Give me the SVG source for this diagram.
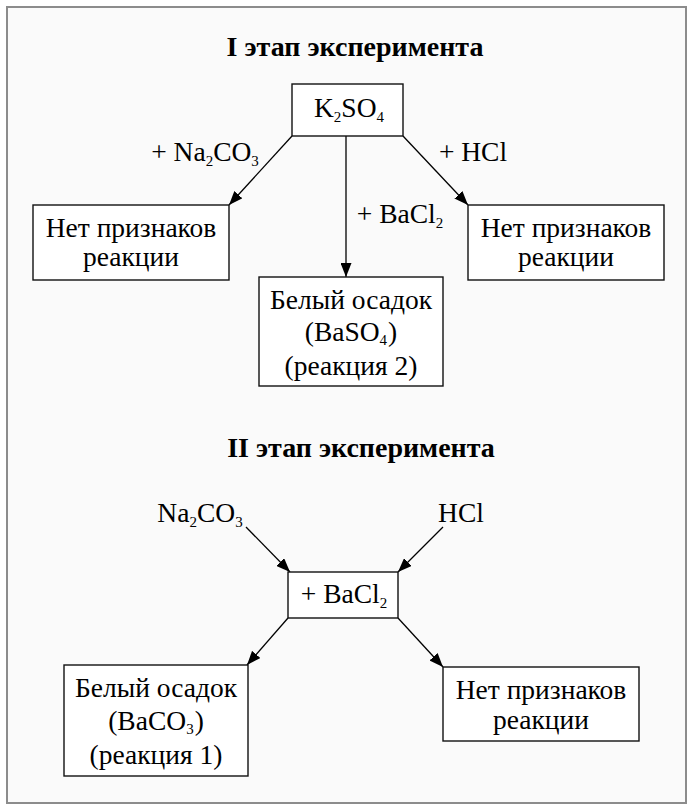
<svg xmlns="http://www.w3.org/2000/svg" width="694" height="808" viewBox="0 0 694 808">
<defs>
<marker id="ah" markerWidth="14" markerHeight="11" refX="14" refY="5.5" orient="auto" markerUnits="userSpaceOnUse">
<path d="M0,0 L14,5.5 L0,11 Z" fill="#000"/>
</marker>
<style>
text{font-family:"Liberation Serif","Times New Roman",serif;fill:#000;text-anchor:middle}
.t{font-size:27.5px}
.h{font-size:28px;font-weight:bold}
.s{font-size:15px}
.box{fill:#fff;stroke:#111;stroke-width:1.4}
.c{stroke:#000;stroke-width:1.3;fill:none;marker-end:url(#ah)}
</style>
</defs>
<rect x="0" y="0" width="694" height="808" fill="#fff"/>
<rect x="7" y="7" width="679" height="796" fill="#fafafa" stroke="#8c8c8c" stroke-width="2"/>

<text class="h" x="355" y="56">I этап эксперимента</text>
<text class="h" x="361" y="457">II этап эксперимента</text>

<g id="connectors">
<line class="c" x1="292" y1="136" x2="229" y2="205"/>
<line class="c" x1="346" y1="136" x2="346" y2="277"/>
<line class="c" x1="403" y1="136" x2="468" y2="205"/>
<line class="c" x1="246" y1="527" x2="290" y2="572"/>
<line class="c" x1="443" y1="527" x2="398" y2="572"/>
<line class="c" x1="288" y1="618" x2="247" y2="665"/>
<line class="c" x1="398" y1="618" x2="443" y2="667"/>
</g>

<g id="lbl-na2co3-1"><text class="t" x="205" y="161">+ Na<tspan class="s" dy="5">2</tspan><tspan dy="-5">CO</tspan><tspan class="s" dy="5">3</tspan></text></g>
<g id="lbl-hcl-1"><text class="t" x="473" y="161">+ HCl</text></g>
<g id="lbl-bacl2-1"><text class="t" x="400" y="223">+ BaCl<tspan class="s" dy="5">2</tspan></text></g>

<g id="k2so4">
<rect class="box" x="292" y="84" width="111" height="52"/>
<text class="t" x="349" y="117">K<tspan class="s" dy="5">2</tspan><tspan dy="-5">SO</tspan><tspan class="s" dy="5">4</tspan></text>
</g>

<g id="no-reaction-left">
<rect class="box" x="33" y="205" width="196" height="75"/>
<text class="t" x="131" y="237">Нет признаков</text>
<text class="t" x="131" y="266">реакции</text>
</g>

<g id="no-reaction-right">
<rect class="box" x="468" y="205" width="196" height="75"/>
<text class="t" x="566" y="237">Нет признаков</text>
<text class="t" x="566" y="266">реакции</text>
</g>

<g id="baso4">
<rect class="box" x="259" y="277" width="184" height="109"/>
<text class="t" x="351" y="309">Белый осадок</text>
<text class="t" x="351" y="341">(BaSO<tspan class="s" dy="4">4</tspan><tspan dx="1" dy="-4">)</tspan></text>
<text class="t" x="351" y="375">(реакция 2)</text>
</g>

<g id="na2co3-2"><text class="t" x="200" y="522">Na<tspan class="s" dy="5">2</tspan><tspan dy="-5">CO</tspan><tspan class="s" dy="5">3</tspan></text></g>
<g id="hcl-2"><text class="t" x="461" y="522">HCl</text></g>

<g id="bacl2">
<rect class="box" x="288" y="572" width="110" height="46"/>
<text class="t" x="344" y="603">+ BaCl<tspan class="s" dy="5">2</tspan></text>
</g>

<g id="baco3">
<rect class="box" x="64" y="665" width="184" height="111"/>
<text class="t" x="156" y="697">Белый осадок</text>
<text class="t" x="156" y="730">(BaCO<tspan class="s" dy="4">3</tspan><tspan dx="1" dy="-4">)</tspan></text>
<text class="t" x="156" y="764">(реакция 1)</text>
</g>

<g id="no-reaction-bottom">
<rect class="box" x="443" y="667" width="196" height="74"/>
<text class="t" x="541" y="699">Нет признаков</text>
<text class="t" x="541" y="729">реакции</text>
</g>
</svg>
